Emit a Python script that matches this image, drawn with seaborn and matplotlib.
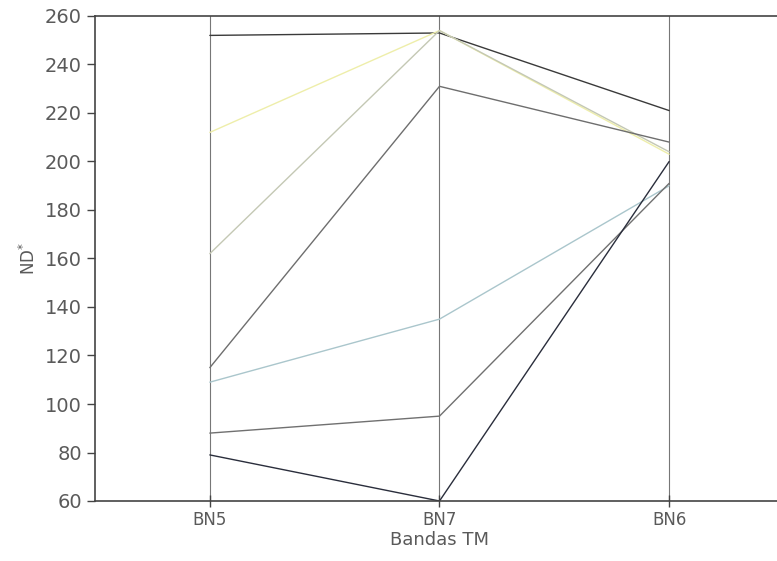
import pandas as pd
import numpy as np
import seaborn as sns
import matplotlib.pyplot as plt

# Bands on the x axis and the digital number (ND) of each class per band
bands = ['BN5', 'BN7', 'BN6']
classes = ['c1', 'c2', 'c3', 'c4', 'c5', 'c6', 'c7']
nd_values = [
    [252, 253, 221],
    [212, 254, 203],
    [162, 254, 204],
    [115, 231, 208],
    [109, 135, 190],
    [88, 95, 191],
    [79, 60, 200],
]
line_colors = ['#3a3a3a', '#eeeeaa', '#c4c8b4', '#6e6e6e', '#aac6cc', '#707070', '#2a2e3c']

rows = []
for cls, vals in zip(classes, nd_values):
    for band, v in zip(bands, vals):
        rows.append({'Banda': band, 'ND': v, 'Clase': cls})
df = pd.DataFrame(rows)

sns.set_theme(style="white")
plt.rcParams['font.family'] = ['DejaVu Sans']

fig = plt.figure(figsize=(7.77, 5.61), dpi=100)
ax = fig.add_axes([95 / 777, 60 / 561, 689 / 777, 485 / 561])

sns.lineplot(data=df, x='Banda', y='ND', hue='Clase', palette=line_colors,
             linewidth=1.0, legend=False, sort=False, ax=ax)

ax.set_xlim(-0.5, 2.5)
ax.set_ylim(60, 260)
ax.set_yticks(range(60, 261, 20))
ax.set_xticks(range(len(bands)))
ax.set_xticklabels(bands)

# vertical guide line on every band
for i in range(len(bands)):
    ax.axvline(i, color='#777777', linewidth=0.8, zorder=0)

for s in ax.spines.values():
    s.set_color('#444444')
    s.set_linewidth(1.2)

ax.tick_params(axis='y', direction='out', length=6, width=1, color='#444444',
               labelsize=14, labelcolor='#5a5a5a', left=True)
ax.tick_params(axis='x', direction='inout', length=8, width=1, color='#444444',
               labelsize=12, labelcolor='#5a5a5a', bottom=True)

ax.set_xlabel('Bandas TM', fontsize=13, color='#5a5a5a', labelpad=1)
ax.set_ylabel('ND$^{*}$', fontsize=12, color='#5a5a5a', labelpad=4)

fig.savefig('out.png', dpi=100)
